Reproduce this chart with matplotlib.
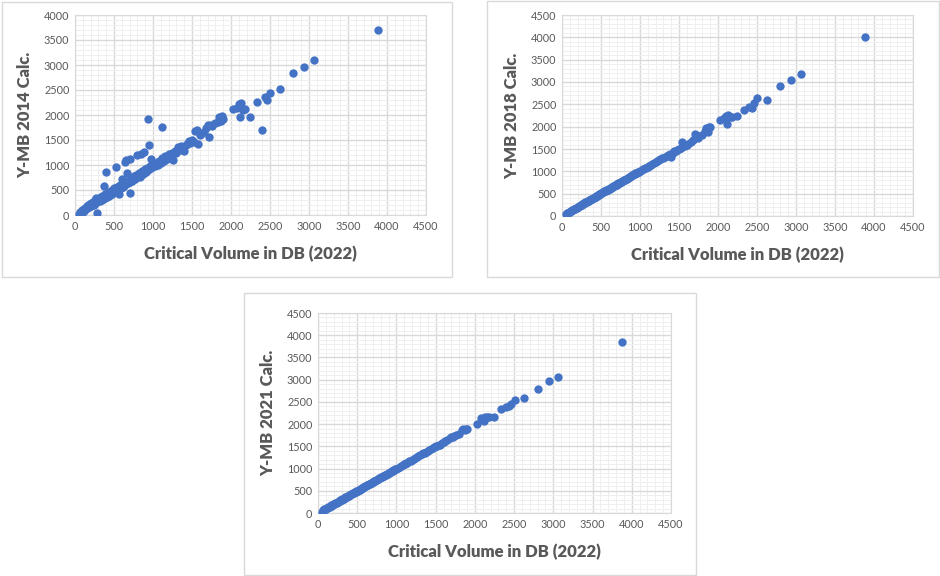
import matplotlib.pyplot as plt
from matplotlib.patches import Rectangle
from matplotlib.ticker import MultipleLocator

plt.rcParams['font.family'] = ['Lato', 'DejaVu Sans']

# critical volume in DB (2022), shared x for all three panels
vol_db = [50, 60, 70, 80, 90, 100, 110, 120, 130, 140, 150, 160, 170, 180, 190,
          200, 210, 220, 230, 240, 250, 260, 270, 280, 285, 290, 300, 310, 320, 330,
          340, 350, 360, 370, 380, 390, 400, 410, 420, 430, 440, 450, 460, 470, 480,
          490, 500, 510, 520, 530, 540, 550, 560, 570, 580, 590, 600, 610, 620, 630,
          640, 650, 660, 670, 680, 690, 700, 705, 710, 720, 730, 740, 750, 760, 770,
          780, 790, 800, 810, 820, 830, 840, 850, 860, 870, 880, 890, 900, 910, 920,
          930, 940, 950, 960, 970, 980, 990, 1000, 1020, 1040, 1060, 1080, 1100, 1110, 1120,
          1140, 1160, 1180, 1200, 1220, 1240, 1260, 1280, 1300, 1320, 1340, 1360, 1380, 1400, 1420,
          1440, 1460, 1480, 1500, 1520, 1540, 1560, 1580, 1600, 1620, 1650, 1680, 1700, 1720, 1740,
          1760, 1800, 1830, 1850, 1870, 1890, 1900, 2030, 2080, 2100, 2110, 2130, 2150, 2180, 2245,
          2335, 2400, 2430, 2460, 2505, 2625, 2800, 2940, 3065, 3880]

ymb_2014 = [30, 20, 60, 50, 100, 70, 130, 90, 150, 120, 180, 140, 200, 160, 230,
            180, 250, 200, 270, 210, 300, 240, 340, 50, 260, 320, 280, 350, 290, 360,
            310, 380, 330, 590, 340, 420, 860, 370, 430, 380, 470, 410, 480, 430, 500,
            450, 540, 470, 960, 490, 560, 510, 580, 430, 600, 550, 720, 560, 650, 580,
            1060, 620, 1100, 840, 640, 700, 1130, 450, 660, 740, 690, 760, 720, 780, 730,
            800, 760, 1200, 780, 850, 760, 1230, 810, 880, 830, 1270, 850, 920, 870, 940,
            1920, 900, 1410, 980, 940, 1130, 960, 1010, 980, 1050, 1000, 1080, 1050, 1760, 1150,
            1090, 1180, 1120, 1230, 1160, 1250, 1100, 1290, 1250, 1360, 1300, 1380, 1320, 1290, 1400,
            1420, 1480, 1450, 1500, 1460, 1680, 1700, 1420, 1600, 1620, 1660, 1740, 1800, 1560, 1810,
            1780, 1840, 1870, 1960, 1880, 1990, 1920, 2120, 2140, 2230, 1970, 2250, 2100, 2130, 1960,
            2270, 1710, 2370, 2300, 2440, 2530, 2850, 2960, 3110, 3710]

ymb_2018 = [40, 50, 60, 75, 90, 95, 110, 120, 125, 140, 150, 165, 165, 185, 190,
            205, 210, 225, 230, 245, 250, 265, 270, 290, 285, 295, 305, 310, 320, 335,
            340, 355, 360, 375, 385, 390, 405, 410, 425, 430, 445, 450, 470, 470, 490,
            490, 510, 510, 530, 530, 550, 555, 565, 575, 590, 590, 610, 615, 625, 635,
            650, 650, 670, 670, 690, 695, 710, 705, 715, 730, 735, 750, 755, 770, 775,
            790, 795, 810, 815, 830, 835, 850, 855, 870, 875, 890, 895, 920, 915, 940,
            935, 960, 955, 970, 975, 990, 995, 1010, 1025, 1045, 1065, 1085, 1105, 1110, 1130,
            1145, 1170, 1185, 1210, 1225, 1250, 1265, 1290, 1305, 1330, 1345, 1370, 1385, 1330, 1420,
            1445, 1465, 1480, 1500, 1520, 1650, 1600, 1560, 1600, 1620, 1650, 1700, 1830, 1760, 1740,
            1800, 1820, 1900, 1960, 1880, 1990, 2000, 2150, 2200, 2240, 2070, 2270, 2210, 2220, 2230,
            2370, 2450, 2420, 2530, 2640, 2600, 2910, 3050, 3190, 4000]

ymb_2021 = [30, 55, 65, 80, 85, 100, 105, 115, 130, 135, 145, 160, 170, 175, 190,
            200, 205, 215, 230, 235, 250, 255, 275, 280, 285, 290, 295, 310, 320, 325,
            340, 350, 355, 365, 380, 390, 400, 405, 420, 430, 440, 445, 460, 470, 480,
            485, 500, 505, 520, 525, 540, 545, 560, 565, 580, 585, 600, 605, 620, 625,
            640, 645, 660, 670, 680, 685, 700, 705, 710, 720, 725, 740, 750, 755, 770,
            780, 785, 800, 805, 820, 825, 840, 845, 860, 865, 880, 885, 900, 905, 920,
            925, 940, 945, 960, 965, 980, 985, 1000, 1015, 1040, 1055, 1080, 1095, 1105, 1120,
            1135, 1160, 1175, 1200, 1215, 1240, 1255, 1280, 1300, 1320, 1350, 1340, 1375, 1395, 1415,
            1435, 1455, 1475, 1500, 1510, 1540, 1540, 1570, 1590, 1610, 1640, 1680, 1700, 1720, 1740,
            1750, 1780, 1860, 1880, 1870, 1880, 1880, 2000, 2130, 2100, 2080, 2150, 2170, 2170, 2170,
            2340, 2380, 2400, 2450, 2540, 2580, 2790, 2970, 3050, 3850]

panels = [
    (ymb_2014, 'Y-MB 2014 Calc.', 4000, [75, 215, 426, 15], [2, 2, 452, 277]),
    (ymb_2018, 'Y-MB 2018 Calc.', 4500, [562, 216, 913, 15], [487, 1, 939, 277]),
    (ymb_2021, 'Y-MB 2021 Calc.', 4500, [318, 513, 671, 313], [244, 293, 696, 575]),
]

W, H = 940, 576
fig = plt.figure(figsize=(9.4, 5.76), dpi=100)
grey = '#595959'

for yvals, ylab, ymax, ax_px, box_px in panels:
    # panel frame
    x0, y0, x1, y1 = box_px
    fig.patches.append(Rectangle((x0 / W, 1 - y1 / H), (x1 - x0) / W, (y1 - y0) / H,
                                 transform=fig.transFigure, fill=False,
                                 edgecolor='#d9d9d9', linewidth=1))
    l, b, r, t = ax_px
    ax = fig.add_axes([l / W, 1 - b / H, (r - l) / W, (b - t) / H])
    ax.scatter(vol_db, yvals, s=36, color='#4472C4', zorder=3, linewidths=0)
    ax.set_xlim(0, 4500)
    ax.set_ylim(0, ymax)
    ax.xaxis.set_major_locator(MultipleLocator(500))
    ax.yaxis.set_major_locator(MultipleLocator(500))
    ax.xaxis.set_minor_locator(MultipleLocator(100))
    ax.yaxis.set_minor_locator(MultipleLocator(100))
    ax.grid(which='major', color='#d9d9d9', linewidth=1)
    ax.grid(which='minor', color='#efefef', linewidth=0.7)
    ax.set_axisbelow(True)
    for sp in ax.spines.values():
        sp.set_color('#d9d9d9')
    ax.tick_params(which='both', length=0, labelsize=7.8, labelcolor=grey, pad=4)
    ax.set_xlabel('Critical Volume in DB (2022)', fontsize=12, fontweight='heavy',
                  color=grey, labelpad=10)
    ax.set_ylabel(ylab, fontsize=12, fontweight='heavy', color=grey, labelpad=8)

fig.savefig('out.png', dpi=100, facecolor='white')
